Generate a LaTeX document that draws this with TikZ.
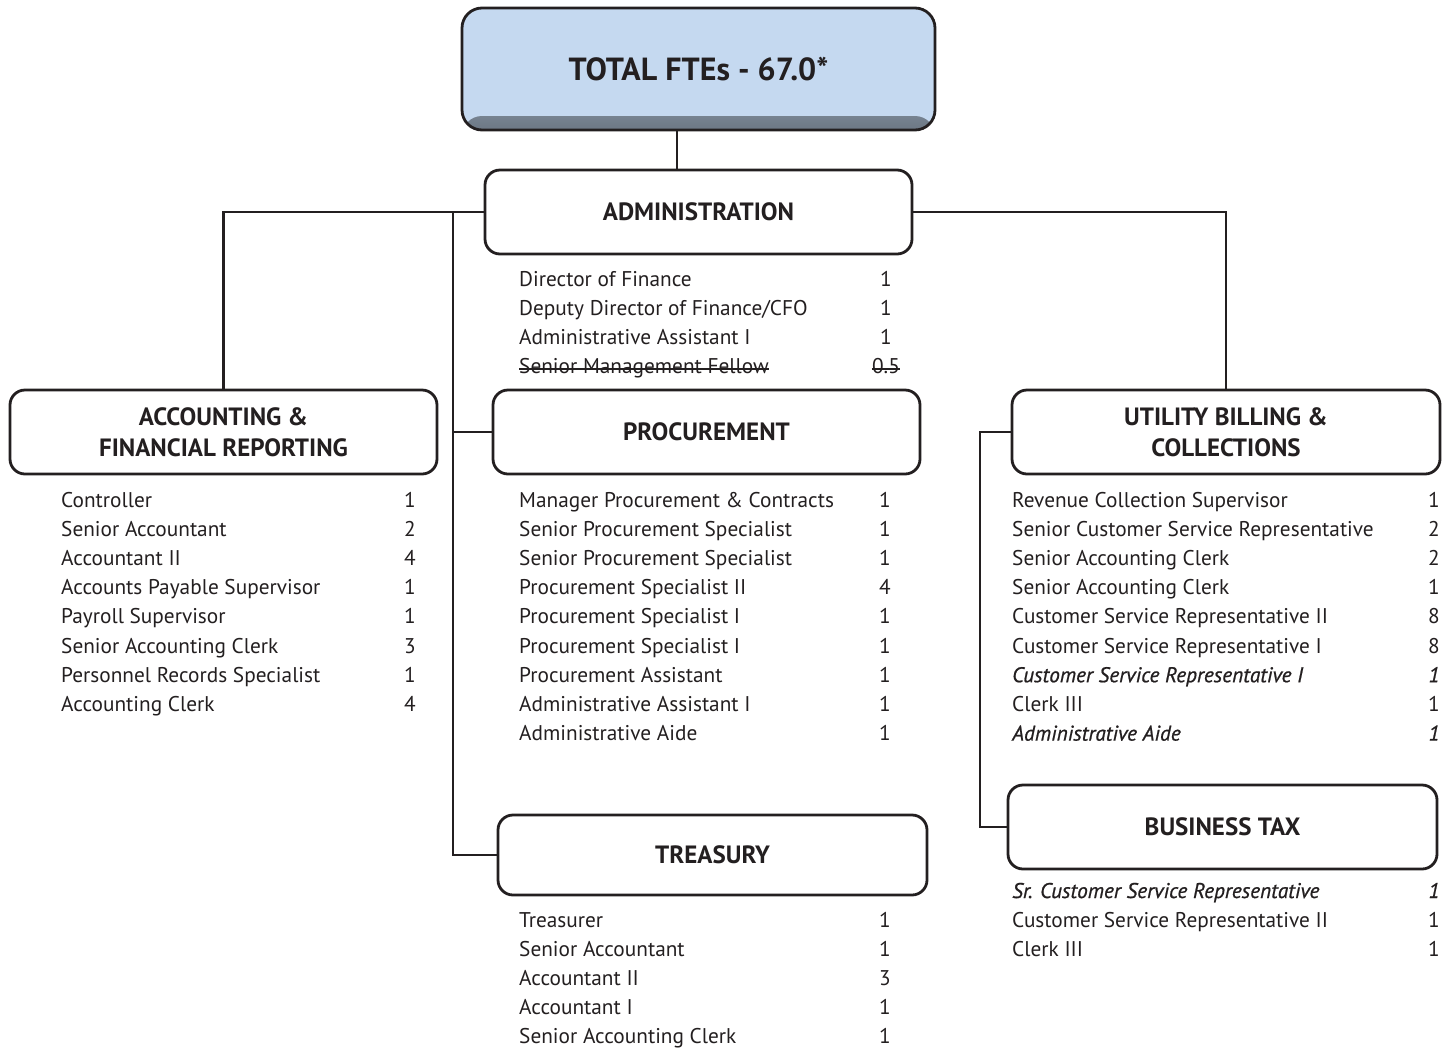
\documentclass[tikz,border=0pt]{standalone}
\usepackage{fontspec}
\setmainfont{PT Sans}
\definecolor{ftesblue}{RGB}{197,217,240}
\definecolor{inkgray}{RGB}{35,31,32}
\usepackage{tikz}
\usetikzlibrary{positioning}
\newcommand{\newpost}{\itshape\addfontfeatures{FakeBold=0.8}}

\begin{document}
\begin{tikzpicture}[
      x=1pt, y=-1pt,
      color=inkgray,
      total/.style={rectangle, rounded corners=20pt, draw=inkgray, line width=2.8pt, fill=ftesblue, align=center, minimum width=473pt, minimum height=122pt, font=\fontsize{32}{36}\selectfont\bfseries,
        path picture={\shade[top color=ftesblue, bottom color=ftesblue!55!black] (path picture bounding box.south west) rectangle ([yshift=14pt]path picture bounding box.south east);}},
      dept/.style={rectangle, rounded corners=15pt, draw=inkgray, line width=2.8pt, fill=white, align=center, minimum width=427pt, minimum height=84pt, font=\fontsize{25}{31}\selectfont\bfseries},
      link/.style={line width=2.8pt, inkgray, line join=miter},
      strike/.style={line width=1.2pt, inkgray},
      role/.style={anchor=base west, inner sep=0pt, font=\fontsize{21.3}{24}\selectfont},
      fte/.style={anchor=base, inner sep=0pt, font=\fontsize{21.3}{24}\selectfont},
    ]
    \useasboundingbox (0,0) rectangle (1447,1050);

    % boxes
    \node[total] (total) at (698.5,69) {TOTAL FTEs - 67.0*};
    \node[dept] (admin) at (698.5,212) {ADMINISTRATION};
    \node[dept] (acct) at (223.5,432) {ACCOUNTING \&\\FINANCIAL REPORTING};
    \node[dept] (proc) at (706.5,432) {PROCUREMENT};
    \node[dept, minimum width=428pt] (ubc) at (1226,432) {UTILITY BILLING \&\\COLLECTIONS};
    \node[dept, minimum width=429pt] (btax) at (1222.5,827) {BUSINESS TAX};
    \node[dept, minimum width=429pt, minimum height=80pt] (treas) at (712.5,855) {TREASURY};

    % connectors
    \coordinate (spine) at (453,212);
    \coordinate (ubspine) at (980,432);
    \draw[link] ([xshift=-21.5pt]total.south) -- ([xshift=-21.5pt]admin.north);
    \draw[link] (admin.west) -| (acct.north);
    \draw[link] (admin.east) -| (ubc.north);
    \draw[link] (spine) |- (treas.west);
    \draw[link] (spine |- proc.west) -- (proc.west);
    \draw[link] (ubc.west) -- (ubspine) |- (btax.west);

    % staff lists
    \foreach \t/\n [count=\i] in {Director of Finance/1, {Deputy Director of Finance/CFO}/1, Administrative Assistant I/1, Senior Management Fellow/0.5} {
      \node[role] (admin-r\i) at (519,{286+29.3*(\i-1)}) {\t};
      \node[fte] (admin-n\i) at (886,{286+29.3*(\i-1)}) {\n};
    }
    \draw[strike] ([yshift=5pt]admin-r4.base west) -- ([yshift=5pt]admin-r4.base east);
    \draw[strike] ([yshift=5pt]admin-n4.base west) -- ([yshift=5pt]admin-n4.base east);
    \foreach \t/\n [count=\i] in {Controller/1, Senior Accountant/2, Accountant II/4, Accounts Payable Supervisor/1, Payroll Supervisor/1, Senior Accounting Clerk/3, Personnel Records Specialist/1, Accounting Clerk/4} {
      \node[role] (acct-r\i) at (61,{507+29.2*(\i-1)}) {\t};
      \node[fte] (acct-n\i) at (410,{507+29.2*(\i-1)}) {\n};
    }
    \foreach \t/\n [count=\i] in {Manager Procurement \& Contracts/1, Senior Procurement Specialist/1, Senior Procurement Specialist/1, Procurement Specialist II/4, Procurement Specialist I/1, Procurement Specialist I/1, Procurement Assistant/1, Administrative Assistant I/1, Administrative Aide/1} {
      \node[role] (proc-r\i) at (519,{507+29.2*(\i-1)}) {\t};
      \node[fte] (proc-n\i) at (885,{507+29.2*(\i-1)}) {\n};
    }
    \foreach \t/\n [count=\i] in {Revenue Collection Supervisor/1, Senior Customer Service Representative/2, Senior Accounting Clerk/2, Senior Accounting Clerk/1, Customer Service Representative II/8, Customer Service Representative I/8, {\newpost Customer Service Representative I}/{\newpost 1}, Clerk III/1, {\newpost Administrative Aide}/{\newpost 1}} {
      \node[role] (ubc-r\i) at (1012,{507+29.2*(\i-1)}) {\t};
      \node[fte] (ubc-n\i) at (1434,{507+29.2*(\i-1)}) {\n};
    }
    \foreach \t/\n [count=\i] in {{\newpost Sr. Customer Service Representative}/{\newpost 1}, Customer Service Representative II/1, Clerk III/1} {
      \node[role] (btax-r\i) at (1012,{898+29.2*(\i-1)}) {\t};
      \node[fte] (btax-n\i) at (1434,{898+29.2*(\i-1)}) {\n};
    }
    \foreach \t/\n [count=\i] in {Treasurer/1, Senior Accountant/1, Accountant II/3, Accountant I/1, Senior Accounting Clerk/1} {
      \node[role] (treas-r\i) at (519,{927+29.2*(\i-1)}) {\t};
      \node[fte] (treas-n\i) at (885,{927+29.2*(\i-1)}) {\n};
    }
  \end{tikzpicture}
\end{document}
